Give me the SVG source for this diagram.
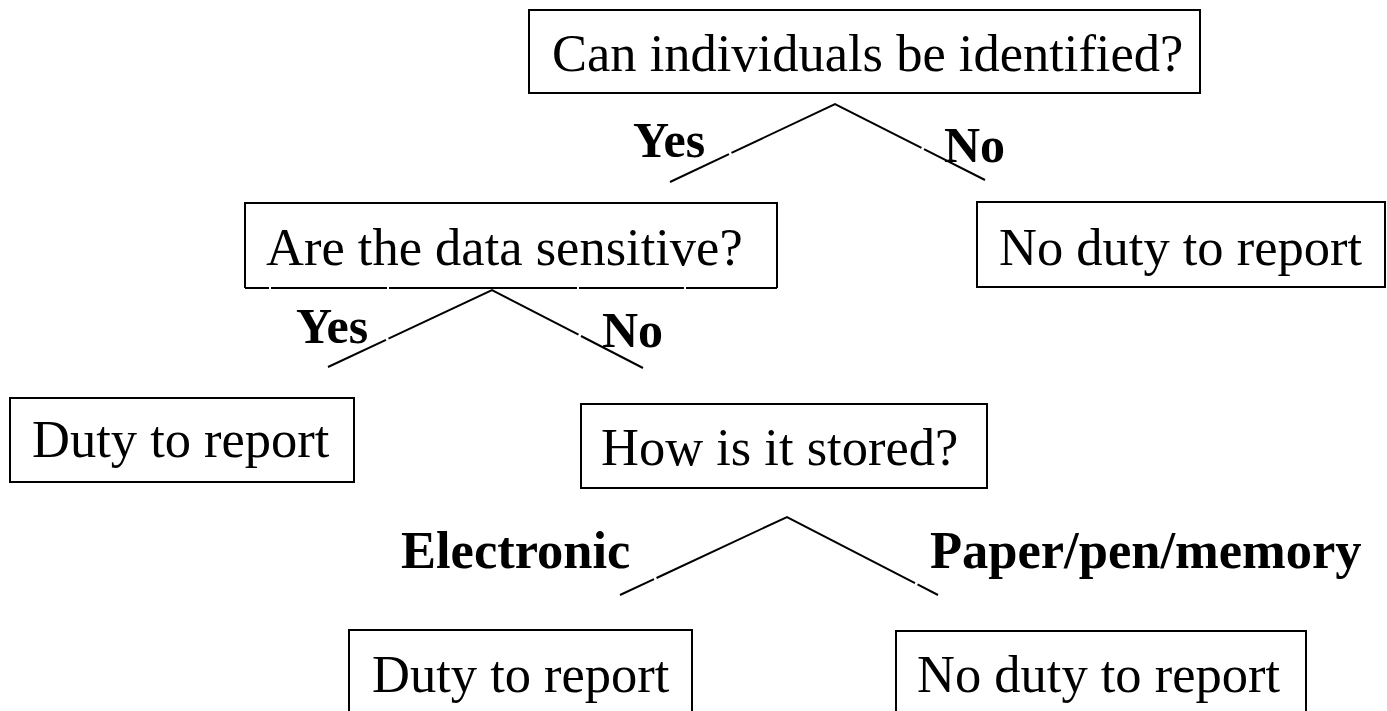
<svg xmlns="http://www.w3.org/2000/svg" width="1387" height="711" viewBox="0 0 1387 711">
<style>
.box{fill:#fff;stroke:#000;stroke-width:2}
.edge{fill:none;stroke:#000;stroke-width:2}
.t{font-family:"Liberation Serif","Times New Roman",serif;font-size:52.5px;fill:#000}
.lb{font-family:"Liberation Serif","Times New Roman",serif;font-size:50px;font-weight:bold;fill:#000}
.lb2{font-family:"Liberation Serif","Times New Roman",serif;font-size:52.5px;font-weight:bold;fill:#000}
.c{stroke:#000;stroke-width:2;fill:none}
</style>
<rect width="1387" height="711" fill="#fff"/>
<g id="connectors">
<path class="c" d="M670,182 L729,154.1 M731.5,152.9 L835,104 L921.5,147.8 M924,149.1 L985,180"/>
<path class="c" d="M328,367 L386,339.8 M388.5,338.6 L492,290 L578.5,334.7 M581,336 L643,368"/>
<path class="c" d="M620,595 L654,579.1 M656.5,578 L787,517 L915,583.1 M917.5,584.4 L938,595"/>
</g>
<g id="labels">
<text class="lb" x="633" y="157">Yes</text>
<text class="lb" x="944" y="162">No</text>
<text class="lb" x="296" y="343">Yes</text>
<text class="lb" x="602" y="347">No</text>
<text class="lb2" x="401" y="568">Electronic</text>
<text class="lb2" x="930" y="568">Paper/pen/memory</text>
</g>
<g id="n1"><rect class="box" x="529" y="10" width="671" height="83"/><text class="t" x="552" y="71">Can individuals be identified?</text></g>
<g id="n2"><rect x="245" y="203" width="532" height="85" fill="#fff"/><path class="edge" d="M245,288 L245,203 L777,203 L777,288 M245,288 L269,288 M271,288 L387,288 M389,288 L577,288 M579,288 L684,288 M686,288 L777,288"/><text class="t" x="266" y="265">Are the data sensitive?</text></g>
<g id="n3"><rect class="box" x="977" y="202" width="408" height="85"/><text class="t" x="999" y="265">No duty to report</text></g>
<g id="n4"><rect class="box" x="10" y="398" width="344" height="84"/><text class="t" x="32" y="457">Duty to report</text></g>
<g id="n5"><rect class="box" x="581" y="404" width="406" height="84"/><text class="t" x="601" y="465">How is it stored?</text></g>
<g id="n6"><rect class="box" x="349" y="630" width="343" height="90"/><text class="t" x="372" y="692">Duty to report</text></g>
<g id="n7"><rect class="box" x="896" y="631" width="410" height="90"/><text class="t" x="917" y="692">No duty to report</text></g>
</svg>
